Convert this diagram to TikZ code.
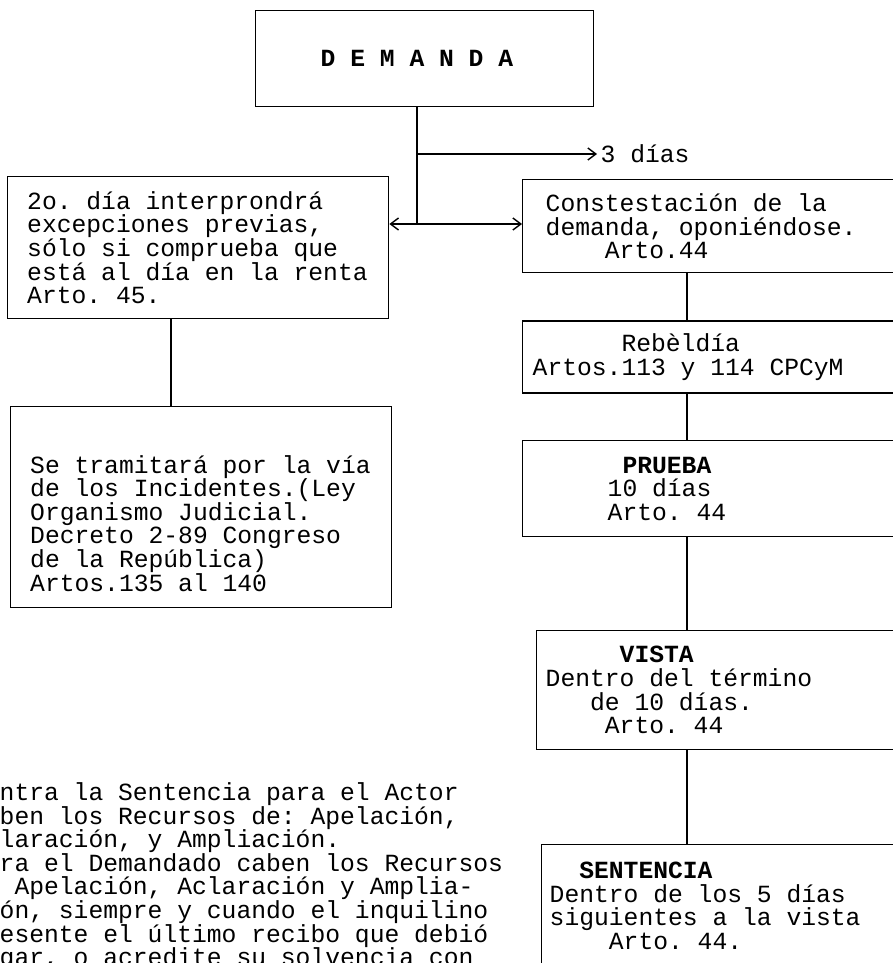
\documentclass[tikz,border=0pt]{standalone}
\usepackage{fontspec}
\setmonofont{Liberation Mono}
\usepackage{tikz}
\usetikzlibrary{positioning, arrows, arrows.meta}

\newcommand{\typefont}{\ttfamily\fontsize{24.67pt}{23.6pt}\selectfont\lineskiplimit=-20pt\relax}

\begin{document}
\begin{tikzpicture}[x=1pt, y=-1pt, >={Straight Barb[length=8pt, width=12pt]}, line width=1.4pt,
    every node/.style={font=\typefont, inner sep=0pt},
    box/.style={draw, anchor=north west, align=left,
        execute at begin node={\spaceskip=0.6em\relax\xspaceskip=0.6em\relax}}] % Setting global styles

    \useasboundingbox (0,0) rectangle (892,963);

    % 1. Define Nodes: the claim and the two answers of the tenant
    \node[box, minimum height=96pt, inner xsep=65pt, text width=208pt] (dem) at (255,10) {\textbf{D E M A N D A}};
    \node[box, minimum height=142pt, inner xsep=19.5pt, text width=342pt] (excep) at (7,176)
        {2o. día interprondrá\\excepciones previas,\\sólo si comprueba que\\está al día en la renta\\Arto. 45.};
    \node[box, minimum height=201pt, inner xsep=19.5pt, text width=342pt] (incid) at (10,406)
        {\rule{0pt}{50pt}Se tramitará por la vía\\de los Incidentes.(Ley\\Organismo Judicial.\\Decreto 2-89 Congreso\\de la República)\\Artos.135 al 140};
    \node[box, minimum height=93pt, inner xsep=23pt, text width=332pt] (contest) at (522,179)
        {Constestación de la\\demanda, oponiéndose.\\\phantom{0000}Arto.44};
    \node[anchor=west, inner xsep=3pt] (tres) at (597,154) {3 días};

    % 2. Steps of the trial, one under the other
    \node[box, minimum height=72pt, inner xsep=10pt, text width=358pt] (rebel) [below right=47pt and 0pt of contest.south west]
        {\phantom{000000}Rebèldía\\Artos.113 y 114 CPCyM};
    \node[box, minimum height=96pt, inner xsep=85pt, text width=208pt] (prueba) [below right=46pt and 0pt of rebel.south west]
        {\phantom{0}\textbf{PRUEBA}\\10 días\\Arto. 44};
    \node[box, minimum height=119pt, inner xsep=9pt, text width=346pt] (vista) at (536,630)
        {\phantom{00000}\textbf{VISTA}\\Dentro del término\\\phantom{000}de 10 días.\\\phantom{0000}Arto. 44};
    \node[box, minimum height=122pt, inner xsep=8pt, text width=343pt] (sent) at (541,844)
        {\phantom{00}\textbf{SENTENCIA}\\Dentro de los 5 días\\siguientes a la vista\\\phantom{0000}Arto. 44.};

    % 3. Note on the appeals (cut at the page edge)
    \node[anchor=north west, align=left] (recur) at (-1,782)
        {ntra la Sentencia para el Actor\\ben los Recursos de: Apelación,\\laración, y Ampliación.\\ra el Demandado caben los Recursos\\\phantom{0}Apelación, Aclaración y Amplia-\\ón, siempre y cuando el inquilino\\esente el último recibo que debió\\gar, o acredite su solvencia con};

    % 4. Connectors
    \coordinate (split) at (417,224);
    \coordinate (branch) at (417,154);
    \coordinate (lcol) at (171,0);
    \coordinate (rcol) at (687,0);

    \draw (dem.south -| split) -- (split);
    \draw[->] (branch) -- (tres.west);
    \draw[<->] (excep.east |- split) -- (contest.west |- split);
    \draw (excep.south -| lcol) -- (incid.north -| lcol);
    \draw (contest.south -| rcol) -- (rebel.north -| rcol);
    \draw (rebel.south -| rcol) -- (prueba.north -| rcol);
    \draw (prueba.south -| rcol) -- (vista.north -| rcol);
    \draw (vista.south -| rcol) -- (sent.north -| rcol);
\end{tikzpicture}
\end{document}
